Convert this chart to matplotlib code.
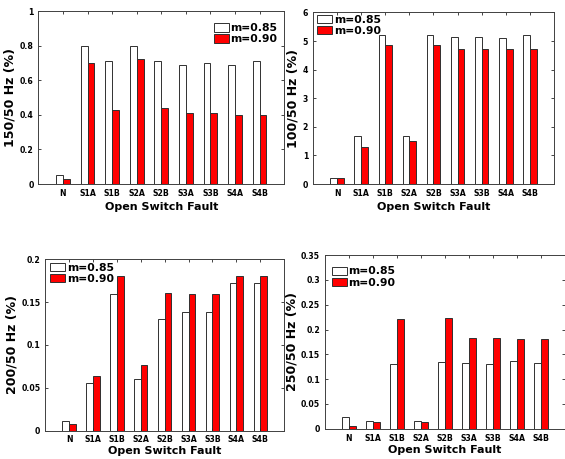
import matplotlib
matplotlib.use("Agg")
import matplotlib.pyplot as plt
import numpy as np

# harmonic ratios for each open switch fault, two modulation indices
faults = ["N", "S1A", "S1B", "S2A", "S2B", "S3A", "S3B", "S4A", "S4B"]

h150_m085 = [0.055, 0.80, 0.71, 0.80, 0.71, 0.69, 0.70, 0.69, 0.71]
h150_m090 = [0.030, 0.70, 0.43, 0.72, 0.44, 0.41, 0.41, 0.40, 0.40]

h100_m085 = [0.22, 1.67, 5.20, 1.67, 5.20, 5.13, 5.15, 5.12, 5.20]
h100_m090 = [0.22, 1.30, 4.85, 1.50, 4.85, 4.73, 4.73, 4.73, 4.73]

h200_m085 = [0.011, 0.056, 0.160, 0.060, 0.130, 0.139, 0.139, 0.172, 0.172]
h200_m090 = [0.008, 0.064, 0.180, 0.076, 0.161, 0.160, 0.160, 0.180, 0.180]

h250_m085 = [0.024, 0.016, 0.131, 0.015, 0.135, 0.132, 0.131, 0.137, 0.133]
h250_m090 = [0.006, 0.014, 0.222, 0.014, 0.223, 0.182, 0.182, 0.181, 0.181]

plt.rcParams['font.family'] = 'DejaVu Sans'
plt.rcParams['font.weight'] = 'bold'

fig = plt.figure(figsize=(5.65, 4.59), dpi=100)

panels = [
    # rect, data085, data090, ylabel, yticks, ylim, legend loc, legend anchor, xlabel pad
    ([0.068, 0.599, 0.435, 0.377], h150_m085, h150_m090, "150/50 Hz (%)",
     np.arange(0, 1.01, 0.2), (0, 1), "upper right", (0.972, 0.93), 3),
    ([0.554, 0.599, 0.4265, 0.374], h100_m085, h100_m090, "100/50 Hz (%)",
     np.arange(0, 6.1, 1), (0, 6), "upper left", (0.016, 0.985), 3),
    ([0.080, 0.062, 0.423, 0.373], h200_m085, h200_m090, "200/50 Hz (%)",
     np.arange(0, 0.201, 0.05), (0, 0.2), "upper left", (0.02, 0.98), 1.5),
    ([0.575, 0.066, 0.425, 0.378], h250_m085, h250_m090, "250/50 Hz (%)",
     np.arange(0, 0.351, 0.05), (0, 0.35), "upper left", (0.028, 0.935), 1.5),
]

x = np.arange(1, len(faults) + 1)
w = 0.28

for rect, d1, d2, ylab, yt, yl, loc, anchor, xpad in panels:
    ax = fig.add_axes(rect)
    ax.bar(x - w / 2, d1, w, color="white", edgecolor="#303030", linewidth=0.7, label="m=0.85")
    ax.bar(x + w / 2, d2, w, color="#ff0000", edgecolor="#303030", linewidth=0.7, label="m=0.90")
    ax.set_xlim(0, 10)
    ax.set_ylim(*yl)
    ax.set_xticks(x)
    ax.set_xticklabels(faults)
    ax.set_yticks(yt)
    ax.set_yticklabels(["%g" % v for v in np.round(yt, 2)])
    ax.tick_params(direction="in", length=2.5, width=0.6, labelsize=5.6,
                   top=True, right=True, colors="#262626", labelcolor="black", pad=3.5)
    for s in ax.spines.values():
        s.set_color("#404040")
        s.set_linewidth(0.7)
    ax.set_xlabel("Open Switch Fault", fontsize=8, fontweight="bold", labelpad=xpad)
    ax.set_ylabel(ylab, fontsize=9, fontweight="bold", labelpad=2)
    ax.legend(loc=loc, bbox_to_anchor=anchor, frameon=False, handlelength=1.4,
              handleheight=0.8, handletextpad=0.15, labelspacing=0.1,
              borderaxespad=0, borderpad=0, prop={"weight": "bold", "size": 7.8})

fig.savefig("out.png", dpi=100)
